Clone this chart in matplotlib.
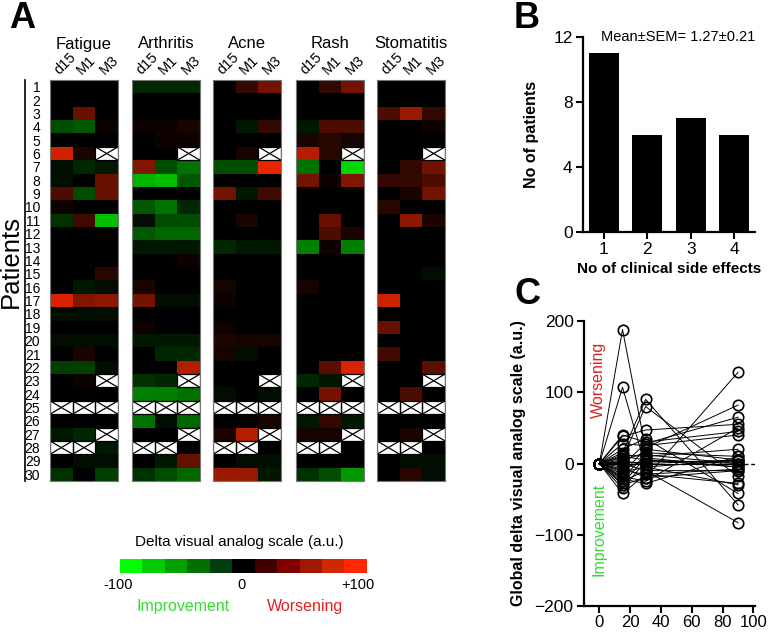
import numpy as np
import matplotlib
matplotlib.use("Agg")
import matplotlib.pyplot as plt
from matplotlib.colors import LinearSegmentedColormap, ListedColormap
from matplotlib.lines import Line2D

plt.rcParams['font.family'] = ['Liberation Sans', 'DejaVu Sans']

X = np.nan

# panel A : delta VAS per patient (rows 1-30), columns d15, M1, M3
timepoints = ["d15", "M1", "M3"]
symptoms = ["Fatigue", "Arthritis", "Acne", "Rash", "Stomatitis"]

fatigue = [
    [0, 0, 0], [0, 0, 0], [0, 40, 0], [-30, -35, 5], [0, 0, 0],
    [80, 10, X], [-5, -15, -10], [-5, 0, 40], [30, -30, 40], [5, 0, 0],
    [-20, 25, -75], [0, 0, 0], [0, 0, 0], [0, 0, 0], [0, 0, 15],
    [0, -10, -5], [85, 50, 55], [-5, -5, -5], [0, 0, 0], [-5, -5, -5],
    [0, 10, 0], [-25, -25, -5], [0, 5, X], [0, 0, 0], [X, X, X],
    [0, 0, 0], [-10, -15, X], [X, X, -10], [0, -5, -5], [-20, 0, -25]]
arthritis = [
    [-15, -15, -15], [0, 0, 0], [0, 0, 0], [5, 5, 10], [0, 5, 5],
    [0, 0, X], [50, -30, -45], [-70, -75, -35], [0, 0, 0], [-35, -45, -15],
    [-5, -30, -30], [-35, -40, -40], [-10, -10, -10], [0, 0, 5], [0, 0, 0],
    [10, 0, 0], [45, -5, -5], [0, 0, 0], [5, 0, 0], [-10, -10, -10],
    [0, -15, -15], [0, 0, 70], [-20, -15, X], [-50, -50, -45], [X, X, X],
    [-45, -5, -40], [0, 0, X], [X, X, 0], [0, -10, 40], [-20, -30, -40]]
acne = [
    [0, 20, 45], [0, 0, 0], [0, 0, 0], [0, -10, 20], [0, 0, 0],
    [0, 10, X], [-30, -30, 90], [0, 0, 0], [45, -10, 25], [0, 0, 0],
    [0, 10, 0], [0, 0, 0], [-15, -10, -10], [0, 0, 0], [0, 0, 0],
    [8, 0, 0], [5, 0, 0], [0, 0, 0], [5, 0, 0], [12, 8, 8],
    [8, -5, 0], [0, 0, 0], [0, 0, X], [-5, 0, -5], [X, X, X],
    [0, 0, 8], [10, 70, X], [X, X, 0], [0, -5, -5], [60, 60, -10]]
rash = [
    [0, 20, 45], [0, 0, 0], [0, 0, 0], [-10, 30, 30], [10, 15, 8],
    [70, 15, X], [-45, 0, -85], [45, 5, 50], [0, 0, 0], [0, 0, 0],
    [0, 40, 0], [0, 30, 10], [-50, 5, -50], [0, 0, 0], [0, 0, 0],
    [8, 0, 0], [0, 0, 0], [0, 0, 0], [0, 0, 0], [0, 0, 0],
    [0, 0, 0], [0, 35, 85], [-15, -10, X], [0, 45, 0], [X, X, X],
    [-10, 20, -10], [8, 8, X], [X, X, 0], [0, 0, 0], [-20, -30, -60]]
stomatitis = [
    [0, 0, 0], [0, 0, 0], [30, 60, 20], [0, 0, 5], [0, 0, 0],
    [0, 0, X], [0, 20, 45], [20, 20, 30], [0, 10, 45], [15, 0, 0],
    [0, 55, 10], [0, 0, 0], [0, 0, 0], [0, 0, 0], [0, 0, -5],
    [0, 0, 0], [80, 0, 0], [0, 0, 0], [40, 0, 0], [0, 0, 0],
    [25, 0, 0], [0, 0, 35], [0, 0, X], [0, 30, 0], [X, X, X],
    [0, 0, 0], [0, 10, X], [X, X, 0], [0, -5, -5], [0, 15, -5]]

# panel B
n_effects = [1, 2, 3, 4]
n_patients = [11, 6, 7, 6]

# panel C : global delta VAS, day 0 = 0 for everyone
days = [0, 15, 30, 90]
gvas_d15 = [188, 107, 40, 38, 28, 20, 15, 12, 10, 8, 5, 3, 0, 0, -2,
            -5, -8, -10, -12, -15, -18, -20, -22, -25, -28, -30, -35, -42, 2]
gvas_d30 = [20, -5, 30, 47, 25, 35, 90, 10, 5, 80, 15, 0, -10, 0, 28,
            -20, 5, -15, -5, 22, -25, 12, -28, -10, 8, -20, 3, -15, 0]
gvas_d90 = [5, -30, 45, 55, 40, -42, -58, 20, 0, -18, 10, 5, -10, 0, 65,
            128, -5, -28, 5, 82, 50, 0, 10, -83, -5, -10, 3, -8, X]

W, H = 773, 633
fig = plt.figure(figsize=(W / 100, H / 100), dpi=100)

def box(x0, y0, x1, y1):
    # pixel box (top-left origin) -> figure fraction rect
    return [x0 / W, 1 - y1 / H, (x1 - x0) / W, (y1 - y0) / H]

cmap = LinearSegmentedColormap.from_list("gkr", ["#00ff00", "#000000", "#ff2a00"])
cmap.set_bad("white")

lefts = [50, 132, 213, 296, 377]
datas = [fatigue, arthritis, acne, rash, stomatitis]
for i, (name, d, x0) in enumerate(zip(symptoms, datas, lefts)):
    ax = fig.add_axes(box(x0, 80, x0 + 68, 481))
    arr = np.array(d, dtype=float)
    ax.imshow(np.ma.masked_invalid(arr), cmap=cmap, vmin=-100, vmax=100,
              aspect="auto", interpolation="nearest")
    for r in range(arr.shape[0]):
        for c in range(arr.shape[1]):
            if np.isnan(arr[r, c]):
                ax.plot([c - 0.5, c + 0.5], [r - 0.5, r + 0.5], color="k", lw=0.9)
                ax.plot([c - 0.5, c + 0.5], [r + 0.5, r - 0.5], color="k", lw=0.9)
                ax.add_patch(plt.Rectangle((c - 0.5, r - 0.5), 1, 1, fill=False,
                                           ec="k", lw=0.9))
    ax.set_xlim(-0.5, 2.5)
    ax.set_ylim(29.5, -0.5)
    ax.xaxis.tick_top()
    ax.set_xticks(range(3))
    ax.set_xticklabels(timepoints, rotation=45, ha="left", va="bottom",
                       rotation_mode="anchor", fontsize=10.5)
    ax.tick_params(length=0, pad=2)
    if i == 0:
        ax.set_yticks(range(30))
        ax.set_yticklabels([str(k) for k in range(1, 31)], fontsize=10)
        ax.tick_params(axis="y", pad=7)
    else:
        ax.set_yticks([])
    for s in ax.spines.values():
        s.set_color("#777777")
        s.set_linewidth(0.8)
    fig.text((x0 + 34) / W, 1 - 44 / H, name, ha="center", va="center", fontsize=12)

fig.add_artist(Line2D([25 / W, 25 / W], [1 - 80 / H, 1 - 481 / H], color="k", lw=1.2))
fig.text(11 / W, 1 - 262 / H, "Patients", rotation=90, ha="center", va="center", fontsize=18.5)
fig.text(22 / W, 1 - 18 / H, "A", ha="center", va="center", fontsize=26, fontweight="bold")

# colour key
bar_cols = ["#00ff00", "#00cc00", "#00a000", "#007000", "#004010", "#000000",
            "#400000", "#800000", "#a01800", "#d02800", "#ff2800"]
cax = fig.add_axes(box(120, 559, 367, 573))
cax.imshow(np.arange(11)[None, :], cmap=ListedColormap(bar_cols), aspect="auto")
cax.set_xticks([])
cax.set_yticks([])
for s in cax.spines.values():
    s.set_visible(False)
fig.text(135 / W, 1 - 542 / H, "Delta visual analog scale (a.u.)", ha="left", va="center", fontsize=11)
fig.text(118 / W, 1 - 585 / H, "-100", ha="center", va="center", fontsize=10.5)
fig.text(241 / W, 1 - 585 / H, "0", ha="center", va="center", fontsize=10.5)
fig.text(358 / W, 1 - 585 / H, "+100", ha="center", va="center", fontsize=10.5)
fig.text(183 / W, 1 - 606 / H, "Improvement", color="#33dd33", ha="center", va="center", fontsize=11.5)
fig.text(305 / W, 1 - 606 / H, "Worsening", color="#dd2222", ha="center", va="center", fontsize=11.5)

def style(ax):
    ax.spines["top"].set_visible(False)
    ax.spines["right"].set_visible(False)
    ax.spines["left"].set_linewidth(1.6)
    ax.spines["bottom"].set_linewidth(1.6)
    ax.tick_params(width=1.5, length=5, labelsize=12.5, pad=2.5)

# panel B
axb = fig.add_axes(box(583, 37, 755, 232))
axb.bar(n_effects, n_patients, width=0.7, color="black")
axb.set_xlim(0.52, 4.48)
axb.set_ylim(0, 12)
axb.set_yticks([0, 4, 8, 12])
axb.set_xticks(n_effects)
style(axb)
axb.set_ylabel("No of patients", fontsize=11.5, fontweight="bold", labelpad=10)
axb.set_xlabel("No of clinical side effects", fontsize=11, fontweight="bold", labelpad=3)
axb.text(1.0, 1.0, "Mean\u00b1SEM= 1.27\u00b10.21", transform=axb.transAxes,
         ha="right", va="center", fontsize=10.5)
fig.text(527 / W, 1 - 18 / H, "B", ha="center", va="center", fontsize=26, fontweight="bold")

# panel C
axc = fig.add_axes(box(584, 321, 755, 606))
for a, b, c in zip(gvas_d15, gvas_d30, gvas_d90):
    axc.plot(days, [0, a, b, c], color="black", lw=0.7, marker="o", ms=7.5,
             mfc="none", mec="black", mew=1.2)
axc.axhline(0, xmin=0.08, color="black", lw=1, ls=(0, (3, 2)))
axc.set_xlim(-10, 101)
axc.set_ylim(-200, 200)
axc.set_xticks([0, 20, 40, 60, 80, 100])
axc.set_yticks([-200, -100, 0, 100, 200])
style(axc)
axc.tick_params(axis="x", labelsize=12, pad=1.5)
axc.set_ylabel("Global delta visual analog scale (a.u.)", fontsize=11.5, fontweight="bold", labelpad=6)
axc.text(-0.5, 117, "Worsening", rotation=90, color="#dd2222", ha="center", va="center", fontsize=11.5)
axc.text(-0.5, -92, "Improvement", rotation=90, color="#33dd33", ha="center", va="center", fontsize=11.5)
fig.text(527 / W, 1 - 295 / H, "C", ha="center", va="center", fontsize=26, fontweight="bold")

fig.savefig("out.png", dpi=100)
